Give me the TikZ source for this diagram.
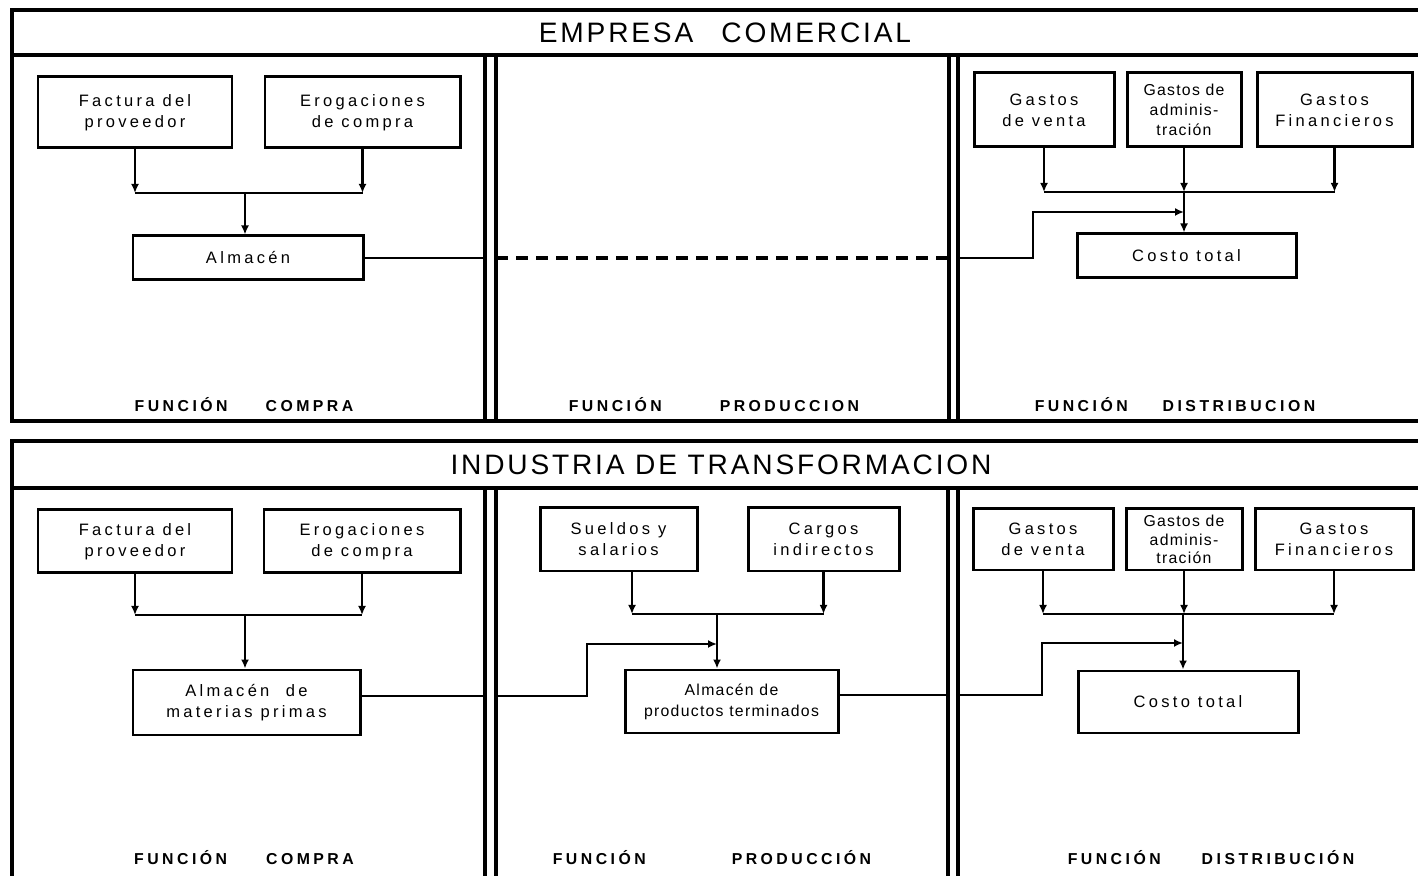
\documentclass[tikz,border=0pt]{standalone}
\usepackage{fontspec}
\setmainfont{Liberation Sans}
\newfontfamily\boxfont[LetterSpace=20]{Liberation Sans}
\newfontfamily\narrowfont[LetterSpace=8]{Liberation Sans}
\newfontfamily\tagfont[LetterSpace=22]{Liberation Sans}
\newfontfamily\headfont[LetterSpace=10]{Liberation Sans}
\usepackage{tikz}
\usetikzlibrary{arrows.meta}
\tikzset{
  % section frames and panel rules
  frame/.style = {line width=0.9pt, black},
  % boxed account, sized per node
  blk/.style   = {rectangle, draw, line width=0.85pt, inner sep=0pt, align=center,
                  font=\boxfont\fontsize{4.7}{6}\selectfont},
  wire/.style  = {line width=0.7pt},
  lane/.style  = {line width=0.7pt, -{Latex[length=0.9mm,width=0.8mm]}},
  head/.style  = {font=\headfont\fontsize{8}{9}\selectfont},
  tag/.style   = {font=\tagfont\bfseries\fontsize{4.5}{5}\selectfont},
}
\newcommand{\funcion}[2]{FUNCIÓN\hspace{#1}#2}

\begin{document}
\begin{tikzpicture}[x=1cm,y=1cm]
\useasboundingbox (0,0) rectangle (14.18,-8.76);
\clip (0,0) rectangle (14.18,-8.76);

% ---- empresa comercial ----------------------------------------------
\draw[frame] (0.12,-0.10) rectangle (14.40,-4.21);
\draw[frame] (0.12,-0.55) -- (14.40,-0.55);
\foreach \x in {4.85,4.96,9.49,9.58}
  \draw[frame] (\x,-0.55) -- (\x,-4.21);
\node[head] (t1) at (7.25,-0.33) {EMPRESA\quad COMERCIAL};

% compra
\node[blk, minimum width=1.94cm, minimum height=0.71cm] (fac1) at (1.35,-1.125) {Factura del\\proveedor};
\node[blk, minimum width=1.95cm, minimum height=0.71cm] (ero1) at (3.625,-1.125) {Erogaciones\\de compra};
\node[blk, minimum width=2.30cm, minimum height=0.44cm] (alm1) at (2.48,-2.58) {Almacén};
\coordinate (j1) at (2.45,-1.93);
\draw[lane] (fac1.south) -- (fac1.south |- j1);
\draw[lane] (ero1.south) -- (ero1.south |- j1);
\draw[wire] (fac1.south |- j1) -- (ero1.south |- j1);
\draw[lane] (j1) -- (j1 |- alm1.north);

% distribucion
\node[blk, minimum width=1.40cm, minimum height=0.74cm] (gv1) at (10.44,-1.10) {Gastos\\de venta};
\node[blk, minimum width=1.14cm, minimum height=0.74cm, font=\narrowfont\fontsize{4.5}{5.6}\selectfont] (ga1) at (11.84,-1.10) {Gastos de\\adminis-\\tración};
\node[blk, minimum width=1.55cm, minimum height=0.74cm] (gf1) at (13.345,-1.10) {Gastos\\Financieros};
\node[blk, minimum width=2.19cm, minimum height=0.44cm] (ct1) at (11.865,-2.56) {Costo total};
\coordinate (j2) at (11.84,-1.92);
\coordinate (k2) at (10.33,-2.12);
\foreach \b in {gv1,ga1,gf1}
  \draw[lane] (\b.south) -- (\b.south |- j2);
\draw[wire] (gv1.south |- j2) -- (gf1.south |- j2);
\draw[lane] (j2) -- (j2 |- ct1.north);

% almacen straight through to costo total
\coordinate (p1r) at (4.85,-2.58);
\coordinate (p2l) at (4.96,-2.58);
\coordinate (p2r) at (9.49,-2.58);
\coordinate (p3l) at (9.58,-2.58);
\draw[wire] (alm1.east) -- (alm1.east -| p1r);
\draw[line width=1pt, dash pattern=on 1.2mm off 0.8mm] (p2l) -- (p2r);
\draw[lane] (p3l) -| (k2) -- (j2 |- k2);

\node[tag] (f1) at (2.44,-4.05) {\funcion{3.8mm}{COMPRA}};
\node[tag] (f2) at (7.14,-4.05) {\funcion{5.8mm}{PRODUCCION}};
\node[tag] (f3) at (11.75,-4.05) {\funcion{3.5mm}{DISTRIBUCION}};

% ---- industria de transformacion ------------------------------------
\draw[frame] (0.12,-4.41) rectangle (14.40,-9.00);
\draw[frame] (0.12,-4.88) -- (14.40,-4.88);
\foreach \x in {4.85,4.96,9.48,9.58}
  \draw[frame] (\x,-4.88) -- (\x,-9.00);
\node[head] (t2) at (7.21,-4.65) {INDUSTRIA DE TRANSFORMACION};

% compra
\node[blk, minimum width=1.94cm, minimum height=0.63cm] (fac2) at (1.35,-5.415) {Factura del\\proveedor};
\node[blk, minimum width=1.96cm, minimum height=0.63cm] (ero2) at (3.62,-5.415) {Erogaciones\\de compra};
\node[blk, minimum width=2.27cm, minimum height=0.65cm] (alm2) at (2.465,-7.025) {Almacén\quad de\\materias primas};
\coordinate (j3) at (2.45,-6.15);
\draw[lane] (fac2.south) -- (fac2.south |- j3);
\draw[lane] (ero2.south) -- (ero2.south |- j3);
\draw[wire] (fac2.south |- j3) -- (ero2.south |- j3);
\draw[lane] (j3) -- (j3 |- alm2.north);

% produccion
\node[blk, minimum width=1.57cm, minimum height=0.63cm] (sue) at (6.185,-5.395) {Sueldos y\\salarios};
\node[blk, minimum width=1.51cm, minimum height=0.63cm] (car) at (8.235,-5.395) {Cargos\\indirectos};
\node[blk, minimum width=2.13cm, minimum height=0.63cm, font=\narrowfont\fontsize{4.5}{6}\selectfont] (alm3) at (7.315,-7.015) {Almacén de\\productos terminados};
\coordinate (d1) at (6.32,-6.14);
\coordinate (j4) at (7.17,-6.14);
\coordinate (k4) at (5.87,-6.44);
\draw[lane] (d1 |- sue.south) -- (d1);
\draw[lane] (car.south) -- (car.south |- j4);
\draw[wire] (d1) -- (car.south |- j4);
\draw[lane] (j4) -- (j4 |- alm3.north);

% distribucion
\node[blk, minimum width=1.40cm, minimum height=0.61cm] (gv2) at (10.43,-5.395) {Gastos\\de venta};
\node[blk, minimum width=1.16cm, minimum height=0.61cm, font=\narrowfont\fontsize{4.5}{5.3}\selectfont] (ga2) at (11.84,-5.395) {Gastos de\\adminis-\\tración};
\node[blk, minimum width=1.58cm, minimum height=0.61cm] (gf2) at (13.34,-5.395) {Gastos\\Financieros};
\node[blk, minimum width=2.20cm, minimum height=0.62cm] (ct2) at (11.88,-7.02) {Costo total};
\coordinate (j5) at (11.83,-6.14);
\coordinate (k5) at (10.42,-6.43);
\foreach \b in {gv2,ga2,gf2}
  \draw[lane] (\b.south) -- (\b.south |- j5);
\draw[wire] (gv2.south |- j5) -- (gf2.south |- j5);
\draw[lane] (j5) -- (j5 |- ct2.north);

% flow across the panels
\coordinate (q1r) at (4.85,-6.96);
\coordinate (q2l) at (4.96,-6.96);
\coordinate (q2r) at (9.48,-6.95);
\coordinate (q3l) at (9.58,-6.95);
\draw[wire] (alm2.east |- q1r) -- (q1r);
\draw[lane] (q2l) -| (k4) -- (j4 |- k4);
\draw[wire] (alm3.east |- q2r) -- (q2r);
\draw[lane] (q3l) -| (k5) -- (j5 |- k5);

\node[tag] (f4) at (2.44,-8.58) {\funcion{3.9mm}{COMPRA}};
\node[tag] (f5) at (7.12,-8.58) {\funcion{8.6mm}{PRODUCCIÓN}};
\node[tag] (f6) at (12.11,-8.58) {\funcion{4.1mm}{DISTRIBUCIÓN}};
\end{tikzpicture}
\end{document}
